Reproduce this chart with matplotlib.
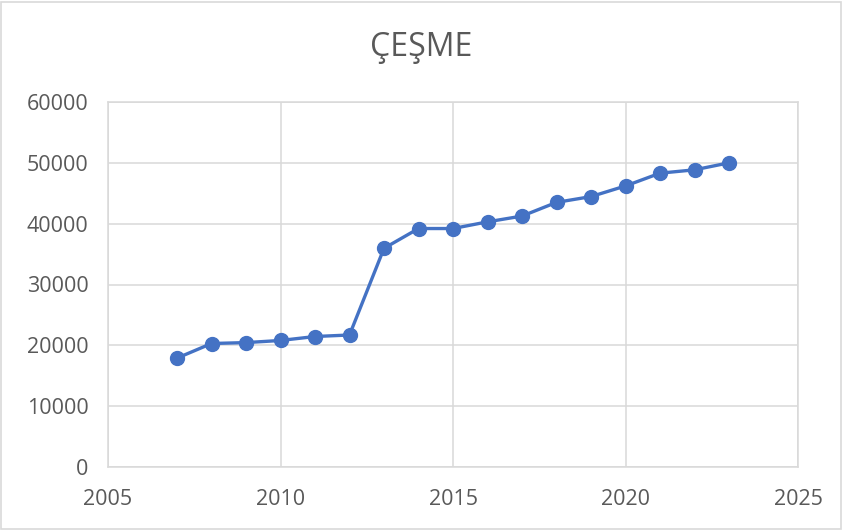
import matplotlib
matplotlib.use("Agg")
import matplotlib.pyplot as plt
from matplotlib.patches import Rectangle

years = [2007, 2008, 2009, 2010, 2011, 2012, 2013, 2014, 2015, 2016, 2017, 2018, 2019, 2020, 2021, 2022, 2023]
values = [17900, 20300, 20450, 20800, 21450, 21700, 35950, 39200, 39200, 40300, 41250, 43500, 44450, 46200, 48300, 48850, 50000]
title = "ÇEŞME"
xticks = [2005, 2010, 2015, 2020, 2025]
yticks = [0, 10000, 20000, 30000, 40000, 50000, 60000]

plt.rcParams['font.family'] = ['Open Sans', 'DejaVu Sans']

fig = plt.figure(figsize=(8.42, 5.32), dpi=100)
ax = fig.add_axes([108/842, 1-467/532, 690/842, 365/532])

grid_c = '#d9d9d9'
text_c = '#595959'

ax.plot(years, values, color='#4472C4', linewidth=2.4, marker='o', markersize=10,
        markerfacecolor='#4472C4', markeredgecolor='#4472C4', zorder=3, clip_on=False)

ax.set_xlim(2005, 2025)
ax.set_ylim(0, 60000)
ax.set_xticks(xticks)
ax.set_yticks(yticks)
ax.set_xticklabels([str(t) for t in xticks])
ax.set_yticklabels([str(t) for t in yticks])
ax.grid(True, color=grid_c, linewidth=1.1)
ax.set_axisbelow(True)
for s in ax.spines.values():
    s.set_color(grid_c)
    s.set_linewidth(1.1)
ax.tick_params(length=0, colors=text_c, labelsize=15.5)
ax.tick_params(axis='x', pad=16)
ax.tick_params(axis='y', pad=14)

fig.text(0.5, 1-48/532, title, ha='center', va='center', fontsize=23, color=text_c)

fig.patches.append(Rectangle((1/842, 3/532), 840/842, 527/532, transform=fig.transFigure,
                             fill=False, edgecolor='#d9d9d9', linewidth=1.2))

fig.savefig("out.png", dpi=100, facecolor='white')
